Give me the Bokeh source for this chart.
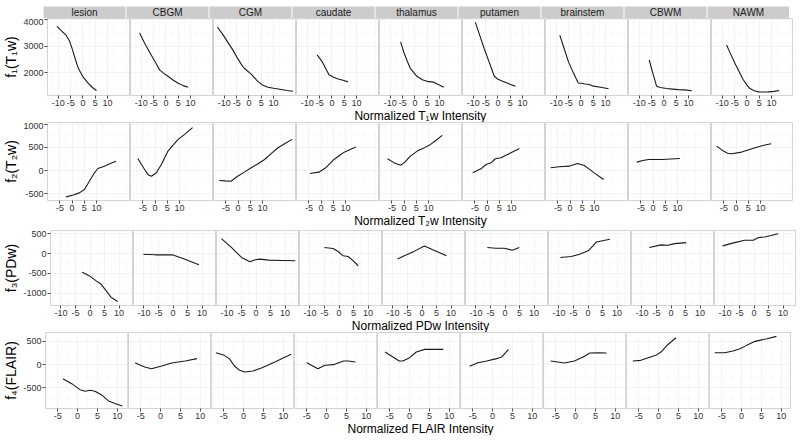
from bokeh.plotting import figure
from bokeh.layouts import row, column
from bokeh.models import Range1d, FixedTicker, Grid, CustomJSTickFormatter
from bokeh.embed import file_html
from bokeh.resources import INLINE
from bokeh.core.properties import value

tissues = ["lesion", "CBGM", "CGM", "caudate", "thalamus", "putamen", "brainstem", "CBWM", "NAWM"]
y_titles = ["f\u2081(T\u2081w)", "f\u2082(T\u2082w)", "f\u2083(PDw)", "f\u2084(FLAIR)"]
x_titles = ["Normalized T\u2081w Intensity", "Normalized T\u2082w Intensity",
            "Normalized PDw Intensity", "Normalized FLAIR Intensity"]
x_ticks = [[-10, -5, 0, 5, 10], [-5, 0, 5, 10], [-10, -5, 0, 5, 10], [-5, 0, 5, 10]]
x_minor = [[-12.5, -7.5, -2.5, 2.5, 7.5, 12.5, 17.5], [-7.5, -2.5, 2.5, 7.5, 12.5, 17.5, 22.5],
           [-12.5, -7.5, -2.5, 2.5, 7.5, 12.5], [-7.5, -2.5, 2.5, 7.5, 12.5]]
y_ticks = [[2000, 3000, 4000], [-500, 0, 500, 1000], [-1000, -500, 0, 500], [-500, 0, 500]]
y_minor = [[1500, 2500, 3500], [-250, 250, 750], [-1250, -750, -250, 250], [-750, -250, 250]]
x_limits = [(-14.4, 18.9), (-10.1, 23.6), (-13.6, 14.6), (-8.1, 12.6)]
y_limits = [(1150, 4035), (-650, 1040), (-1310, 580), (-940, 690)]

# ---- row 1: T1w ----
t1w_lesion_x = [-10.6, -8.6, -6.8, -5.4, -4.2, -3.0, -1.8, 0, 2.0, 3.8, 5.5]
t1w_lesion_y = [3740, 3560, 3400, 3180, 2850, 2480, 2150, 1850, 1620, 1450, 1340]
t1w_CBGM_x = [-10.7, -8.5, -6.0, -4.0, -2.6, -1.0, 0.8, 3.0, 5.0, 7.0, 9.0]
t1w_CBGM_y = [3490, 3080, 2670, 2350, 2110, 1990, 1870, 1720, 1610, 1520, 1460]
t1w_CGM_x = [-12.8, -10.5, -8.7, -6.5, -4.6, -3.0, -1.9, 0.9, 3.6, 5.5, 7.7, 10, 13.1, 15.5, 17.8]
t1w_CGM_y = [3715, 3420, 3160, 2850, 2540, 2300, 2170, 1950, 1680, 1540, 1460, 1420, 1375, 1340, 1310]
t1w_caudate_x = [-6.0, -4.0, -2.5, -1.2, 0.5, 2.2, 4.5, 6.5]
t1w_caudate_y = [2670, 2420, 2150, 1930, 1840, 1780, 1720, 1660]
t1w_thalamus_x = [-5.8, -4.6, -3.2, -1.9, 0.8, 3.0, 4.9, 7.6, 9.5, 11.7]
t1w_thalamus_y = [3160, 2790, 2450, 2170, 1870, 1740, 1680, 1650, 1560, 1460]
t1w_putamen_x = [-9.2, -7.4, -5.6, -3.5, -1.5, 0, 1.9, 4.7, 7.1]
t1w_putamen_y = [3900, 3400, 2910, 2380, 1870, 1760, 1680, 1580, 1495]
t1w_brainstem_x = [-8.6, -6.8, -5.1, -3.0, -1.1, 0.3, 1.6, 3.3, 5.1, 8.0, 11.2]
t1w_brainstem_y = [3410, 2900, 2420, 1980, 1620, 1610, 1580, 1560, 1500, 1460, 1400]
t1w_CBWM_x = [-6.0, -4.5, -3.0, -1.5, 1.1, 3.5, 5.9, 8.5, 11.3]
t1w_CBWM_y = [2480, 1980, 1500, 1450, 1410, 1390, 1370, 1360, 1330]
t1w_NAWM_x = [-8.3, -6.6, -4.9, -3.2, -1.5, 0, 1.2, 3.0, 4.7, 6.7, 8.7, 11.0, 13.1]
t1w_NAWM_y = [3040, 2700, 2360, 2050, 1740, 1540, 1410, 1330, 1285, 1280, 1285, 1305, 1335]

# ---- row 2: T2w ----
t2w_lesion_x = [-2.5, 0.5, 3.0, 5.1, 7.1, 9.2, 10.6, 13.3, 15.7, 18.1]
t2w_lesion_y = [-572, -530, -485, -413, -232, -50, 43, 94, 150, 202]
t2w_CBGM_x = [-7.1, -5.7, -4.3, -2.9, -1.5, 0.5, 2.6, 5.3, 7.4, 9.5, 12.5, 15.4]
t2w_CBGM_y = [261, 140, 22, -90, -124, -50, 130, 420, 550, 674, 800, 928]
t2w_CGM_x = [-7.7, -5.3, -2.9, -0.2, 2.6, 5.4, 8.2, 10.9, 13.6, 16.4, 19.3, 22.2]
t2w_CGM_y = [-217, -225, -232, -124, -35, 58, 148, 239, 365, 493, 585, 674]
t2w_caudate_x = [-4.6, -0.9, 1.9, 3.6, 5.3, 7.4, 9.5, 12.0, 14.3]
t2w_caudate_y = [-65, -36, 58, 150, 239, 320, 398, 455, 507]
t2w_thalamus_x = [-6.8, -4.2, -1.5, 0, 2.6, 5.4, 8.2, 10.9, 13.3, 15.7]
t2w_thalamus_y = [255, 170, 115, 165, 312, 420, 490, 565, 660, 760]
t2w_putamen_x = [-5.9, -2.5, -0.4, 1.6, 3.4, 5.7, 9.2, 13.3]
t2w_putamen_y = [-51, 36, 130, 167, 254, 275, 370, 479]
t2w_brainstem_x = [-8.0, -4.5, -0.4, 3.0, 5.8, 7.9, 9.9, 13.8]
t2w_brainstem_y = [58, 80, 94, 152, 109, 30, -51, -196]
t2w_CBWM_x = [-6.7, -4.2, -1.8, 3.7, 11.0]
t2w_CBWM_y = [181, 215, 239, 239, 261]
t2w_NAWM_x = [-8.0, -5.2, -3.5, -1.8, 2.3, 7.8, 11.0, 14.4]
t2w_NAWM_y = [529, 420, 375, 362, 399, 493, 540, 580]

# ---- row 3: PDw ----
pdw_lesion_x = [-2.7, -0.3, 2.0, 3.7, 5.5, 7.2, 9.5]
pdw_lesion_y = [-475, -558, -683, -767, -933, -1100, -1208]
pdw_CBGM_x = [-10.2, -6.1, -0.3, 3.2, 8.9]
pdw_CBGM_y = [-17, -33, -33, -117, -283]
pdw_CGM_x = [-11.9, -8.4, -5.0, -2.1, -0.3, 1.4, 4.3, 9.0, 13.5]
pdw_CGM_y = [375, 150, -100, -208, -158, -142, -167, -175, -183]
pdw_caudate_x = [-5.0, -2.1, -0.3, 1.4, 3.1, 4.8, 6.6]
pdw_caudate_y = [150, 125, 50, -58, -75, -180, -308]
pdw_thalamus_x = [-8.4, -6.1, -2.6, 0.8, 4.5, 8.4]
pdw_thalamus_y = [-140, -58, 60, 190, 70, -58]
pdw_putamen_x = [-6.1, -3.2, -0.3, 2.5, 4.9]
pdw_putamen_y = [150, 133, 133, 83, 150]
pdw_brainstem_x = [-9.5, -5.8, -2.9, 0, 1.7, 2.9, 4.6, 7.5]
pdw_brainstem_y = [-100, -75, -17, 67, 192, 292, 317, 358]
pdw_CBWM_x = [-7.5, -3.4, -1.1, 1.2, 5.2]
pdw_CBWM_y = [150, 217, 208, 250, 275]
pdw_NAWM_x = [-10.8, -6.7, -3.2, -0.3, 1.4, 3.7, 8.3]
pdw_NAWM_y = [192, 275, 333, 333, 400, 417, 500]

# ---- row 4: FLAIR ----
flair_lesion_x = [-3.7, -1.5, 0.6, 1.9, 3.2, 4.4, 6.2, 7.8, 9.6, 11.3]
flair_lesion_y = [-300, -407, -536, -571, -550, -571, -657, -778, -836, -886]
flair_CBGM_x = [-6.4, -4.0, -2.3, 0.3, 2.8, 6.2, 9.2]
flair_CBGM_y = [36, -50, -86, -29, 36, 79, 129]
flair_CGM_x = [-7.0, -4.9, -3.6, -2.3, -1.0, 0.3, 2.4, 4.5, 7.9, 12.0]
flair_CGM_y = [257, 200, 129, -29, -121, -157, -136, -71, 57, 221]
flair_caudate_x = [-5.0, -2.2, -0.4, 1.7, 4.3, 5.5, 7.3]
flair_caudate_y = [43, -86, -14, 0, 79, 79, 57]
flair_thalamus_x = [-6.2, -2.6, -1.7, 0, 1.7, 3.8, 6.0, 8.5]
flair_thalamus_y = [271, 79, 79, 150, 271, 328, 330, 328]
flair_putamen_x = [-5.8, -3.7, -1.5, 1.0, 2.3, 4.0]
flair_putamen_y = [-36, 43, 79, 129, 164, 328]
flair_brainstem_x = [-6.3, -2.8, -0.3, 1.9, 3.6, 5.7, 7.8]
flair_brainstem_y = [79, 36, 79, 164, 250, 257, 250]
flair_CBWM_x = [-6.5, -4.5, -2.8, -0.7, 0.6, 2.3, 4.4]
flair_CBWM_y = [79, 93, 143, 200, 271, 428, 578]
flair_NAWM_x = [-6.8, -4.3, -2.2, -0.4, 1.3, 3.4, 6.4, 8.8]
flair_NAWM_y = [257, 257, 293, 343, 414, 500, 557, 607]

g = globals()
curves = [[(g[f"{m}_{t}_x"], g[f"{m}_{t}_y"]) for t in tissues] for m in ["t1w", "t2w", "pdw", "flair"]]

FONT = "Liberation Sans"
AX_W = [43, 43, 47, 43]
FW = 82
FH = [77, 78, 75, 76]
STRIP_TOP = 6
STRIP_H = 12
TITLE_H = [14, 17, 14, 14]


def borders(ri, ci):
    left = AX_W[ri] if ci == 0 else 0
    right = 0 if ci == 8 else 1
    return left, right


def style_axis(ax, ticks, minor):
    ax.ticker = FixedTicker(ticks=ticks, minor_ticks=minor)
    ax.formatter = CustomJSTickFormatter(code="return tick.toString();")
    ax.axis_line_color = None
    ax.major_tick_out = 3
    ax.major_tick_in = 0
    ax.minor_tick_out = 0
    ax.minor_tick_in = 0
    ax.major_tick_line_color = "#4d4d4d"
    ax.major_label_standoff = 1
    ax.major_label_text_font = FONT
    ax.major_label_text_font_size = "9px"
    ax.major_label_text_color = "#333333"


def make_panel(ri, ci):
    first = ci == 0
    left, right = borders(ri, ci)
    p = figure(frame_width=FW, frame_height=FH[ri],
               x_range=Range1d(*x_limits[ri]), y_range=Range1d(*y_limits[ri]),
               toolbar_location=None, output_backend="svg",
               y_axis_location="left" if first else None,
               min_border_left=left, min_border_right=right,
               min_border_top=0, min_border_bottom=0,
               background_fill_color="white", border_fill_color="white",
               outline_line_color="#d3d3d3", outline_line_width=1)
    xs, ys = curves[ri][ci]
    p.line(xs, ys, line_color="#1a1a1a", line_width=1.1)
    style_axis(p.xaxis[0], x_ticks[ri], x_minor[ri])
    for gr in list(p.xgrid):
        gr.ticker = FixedTicker(ticks=x_ticks[ri], minor_ticks=x_minor[ri])
    if first:
        ay = p.yaxis[0]
        style_axis(ay, y_ticks[ri], y_minor[ri])
        ay.axis_label = y_titles[ri]
        ay.axis_label_text_font = FONT
        ay.axis_label_text_font_size = "14px"
        ay.axis_label_text_font_style = "normal"
        ay.axis_label_text_color = "black"
        ay.axis_label_standoff = 1
    for gr in list(p.ygrid):
        p.center.remove(gr)
    p.add_layout(Grid(dimension=1, ticker=FixedTicker(ticks=y_ticks[ri], minor_ticks=y_minor[ri])), "center")
    for gr in list(p.grid):
        gr.grid_line_color = "#ebebeb"
        gr.grid_line_width = 0.6
        gr.minor_grid_line_color = "#f4f4f4"
        gr.minor_grid_line_width = 0.5
    return p


def make_strip(ci):
    left, right = borders(0, ci)
    p = figure(frame_width=FW, frame_height=STRIP_H,
               x_range=Range1d(0, 1), y_range=Range1d(0, STRIP_H),
               toolbar_location=None, output_backend="svg",
               x_axis_location=None, y_axis_location=None,
               min_border_left=left, min_border_right=right,
               min_border_top=STRIP_TOP, min_border_bottom=0,
               background_fill_color="#cccccc", border_fill_color="white",
               outline_line_color=None)
    p.grid.visible = False
    p.text(x=[0.5], y=[STRIP_H / 2], text=[tissues[ci]], text_align="center", text_baseline="middle",
           text_font=value(FONT), text_font_size="10px", text_color="#1a1a1a")
    return p


def make_title(ri):
    h = TITLE_H[ri]
    p = figure(frame_width=9 * FW + 8, frame_height=h,
               x_range=Range1d(0, 1), y_range=Range1d(0, h),
               toolbar_location=None, output_backend="svg",
               x_axis_location=None, y_axis_location=None,
               min_border_left=AX_W[ri], min_border_right=0,
               min_border_top=0, min_border_bottom=0,
               background_fill_color="white", border_fill_color="white",
               outline_line_color=None)
    p.grid.visible = False
    p.text(x=[0.5], y=[h - 7], text=[x_titles[ri]], text_align="center",
           text_baseline="middle",
           text_font=value(FONT), text_font_size="12px", text_color="black")
    return p


rows = [row([make_strip(ci) for ci in range(9)], spacing=0)]
for ri in range(4):
    rows.append(row([make_panel(ri, ci) for ci in range(9)], spacing=0))
    rows.append(make_title(ri))

layout = column(rows, spacing=0)
open("out.html", "w").write(file_html(layout, INLINE))
